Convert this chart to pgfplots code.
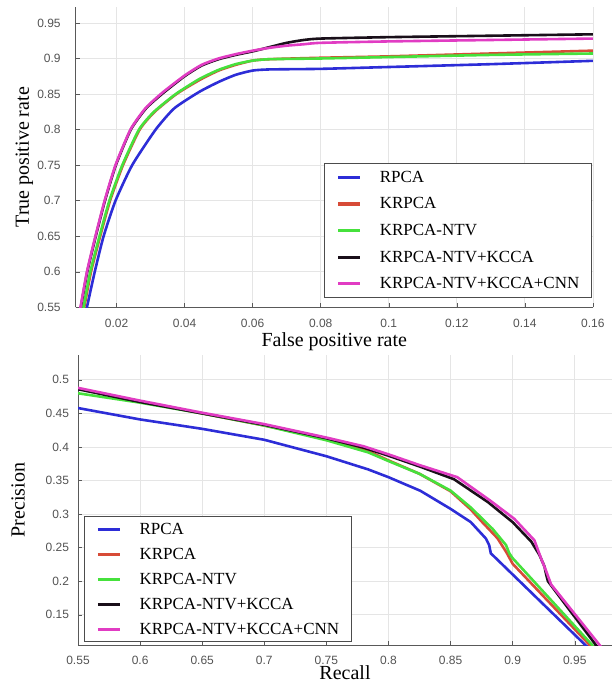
\documentclass[border=0pt]{standalone}
\usepackage{fontspec}
\setmainfont{Liberation Serif}
\newfontfamily\tickfont{Liberation Sans}
\usepackage{pgfplots}
\pgfplotsset{compat=1.18}
\definecolor{cRPCA}{RGB}{45,45,215}
\definecolor{cKRPCA}{RGB}{215,75,55}
\definecolor{cNTV}{RGB}{70,225,60}
\definecolor{cKCCA}{RGB}{25,15,25}
\definecolor{cCNN}{RGB}{225,60,195}

\pgfplotsset{
  curvestyle/.style={
    scale only axis, axis lines*=left,
    axis line style={draw=gray!70!black, line width=0.5pt},
    grid=major, major grid style={draw=gray!20, line width=0.4pt},
    tick style={draw=gray!70!black}, major tick length=2pt,
    scaled ticks=false,
    tick label style={font=\tickfont\fontsize{6}{7}\selectfont, text=gray!65!black,
      /pgf/number format/fixed, /pgf/number format/precision=3},
    /pgf/number format/assume math mode=true,
    label style={font=\fontsize{10}{12}\selectfont},
    every axis plot/.append style={line width=1.3pt},
    legend cell align=left,
    legend image code/.code={\draw[#1, line width=1.6pt] (0pt,0pt) -- (11pt,0pt);},
    legend style={draw=gray!60!black, line width=0.5pt,
      font=\fontsize{8.5}{10}\selectfont, inner xsep=6pt, column sep=9pt,
      nodes={inner sep=0pt, text height=6pt, text depth=1pt}},
  }
}

\begin{document}
\begin{tikzpicture}
\useasboundingbox (0pt,0pt) rectangle (306pt,-341.5pt);

% ROC
\begin{axis}[curvestyle,
  at={(37.85pt,-153.65pt)}, anchor=south west,
  width=258.6pt, height=150pt,
  xmin=0.008, xmax=0.16, ymin=0.55, ymax=0.972,
  xtick={0.02,0.04,0.06,0.08,0.1,0.12,0.14,0.16},
  ytick={0.55,0.6,0.65,0.7,0.75,0.8,0.85,0.9,0.95},
  xticklabel style={yshift=-2.5pt}, yticklabel style={xshift=-4pt},
  xlabel={False positive rate}, ylabel={True positive rate},
  xlabel style={at={(axis description cs:0.5,-0.113)}, anchor=center},
  ylabel style={at={(axis description cs:-0.099,0.5)}, anchor=center},
  legend style={at={(0.998,0.03)}, anchor=south east, inner ysep=3.5pt, row sep=6.3pt},
  every axis plot/.append style={smooth, tension=0.35},
]
\addplot[cRPCA] coordinates {
  (0.0110,0.54) (0.0113,0.55) (0.0136,0.60) (0.0162,0.65) (0.0197,0.70) (0.0246,0.75)
  (0.0315,0.80) (0.0370,0.83) (0.0443,0.853) (0.0500,0.867) (0.0550,0.877)
  (0.0600,0.883) (0.0650,0.8846) (0.0800,0.8854) (0.1000,0.888) (0.1300,0.892) (0.1600,0.8967)};
\addlegendentry{RPCA}
\addplot[cKRPCA] coordinates {
  (0.0100,0.54) (0.0105,0.55) (0.0125,0.60) (0.0152,0.65) (0.0181,0.70) (0.0219,0.75)
  (0.0268,0.80) (0.0312,0.825) (0.0376,0.85) (0.0445,0.870) (0.0500,0.883) (0.0550,0.891)
  (0.0600,0.897) (0.0650,0.899) (0.0800,0.901) (0.1000,0.903) (0.1300,0.907) (0.1600,0.911)};
\addlegendentry{KRPCA}
\addplot[cNTV] coordinates {
  (0.0100,0.54) (0.0103,0.55) (0.0123,0.60) (0.0150,0.65) (0.0179,0.70) (0.0217,0.75)
  (0.0266,0.80) (0.0310,0.825) (0.0374,0.85) (0.0443,0.871) (0.0500,0.884) (0.0550,0.892)
  (0.0600,0.897) (0.0650,0.899) (0.0800,0.900) (0.1000,0.902) (0.1300,0.905) (0.1600,0.907)};
\addlegendentry{KRPCA-NTV}
\addplot[cKCCA] coordinates {
  (0.0092,0.54) (0.0095,0.55) (0.0114,0.60) (0.0139,0.65) (0.0166,0.70) (0.0198,0.75)
  (0.0242,0.80) (0.0287,0.83) (0.0336,0.851) (0.0400,0.875) (0.0450,0.890) (0.0500,0.899)
  (0.0550,0.905) (0.0600,0.910) (0.0650,0.916) (0.0700,0.922) (0.0750,0.926) (0.0800,0.928)
  (0.1000,0.930) (0.1300,0.932) (0.1600,0.934)};
\addlegendentry{KRPCA-NTV+KCCA}
\addplot[cCNN] coordinates {
  (0.0090,0.54) (0.0094,0.55) (0.0113,0.60) (0.0138,0.65) (0.0165,0.70) (0.0197,0.75)
  (0.0241,0.80) (0.0285,0.83) (0.0335,0.852) (0.0400,0.876) (0.0450,0.891) (0.0500,0.900)
  (0.0550,0.906) (0.0600,0.911) (0.0650,0.915) (0.0700,0.918) (0.0750,0.920) (0.0800,0.922)
  (0.1000,0.924) (0.1300,0.926) (0.1600,0.928)};
\addlegendentry{KRPCA-NTV+KCCA+CNN}
\end{axis}

% Precision-recall
\begin{axis}[curvestyle,
  at={(39pt,-322.5pt)}, anchor=south west,
  width=267pt, height=145pt,
  xmin=0.55, xmax=0.98, ymin=0.105, ymax=0.537,
  xtick={0.55,0.6,0.65,0.7,0.75,0.8,0.85,0.9,0.95},
  ytick={0.15,0.2,0.25,0.3,0.35,0.4,0.45,0.5},
  xticklabel style={yshift=-2pt}, yticklabel style={xshift=-1pt},
  xlabel={Recall}, ylabel={Precision},
  xlabel style={at={(axis description cs:0.5,-0.0966)}, anchor=center},
  ylabel style={at={(axis description cs:-0.112,0.5)}, anchor=center},
  legend style={at={(0.011,0.01)}, anchor=south west, inner ysep=2.75pt, row sep=5.5pt},
]
\addplot[cRPCA] coordinates {
  (0.55,0.458) (0.6,0.441) (0.65,0.427) (0.7,0.4107) (0.75,0.3862) (0.7836,0.3666)
  (0.8,0.355) (0.8257,0.3347) (0.85,0.3078) (0.8662,0.2882) (0.8784,0.2637)
  (0.8811,0.2538) (0.8824,0.2416) (0.8851,0.2368) (0.9585,0.105) (0.961,0.100)};
\addlegendentry{RPCA}
\addplot[cKRPCA] coordinates {
  (0.55,0.487) (0.6,0.468) (0.65,0.450) (0.7,0.432) (0.75,0.412) (0.78,0.397)
  (0.8,0.380) (0.825,0.360) (0.85,0.334) (0.8662,0.307) (0.875,0.289) (0.8878,0.264)
  (0.895,0.243) (0.9,0.226) (0.962,0.105) (0.964,0.100)};
\addlegendentry{KRPCA}
\addplot[cNTV] coordinates {
  (0.55,0.480) (0.6,0.466) (0.65,0.450) (0.7,0.432) (0.75,0.410) (0.7836,0.392)
  (0.8,0.379) (0.825,0.360) (0.85,0.335) (0.8662,0.310) (0.8838,0.278) (0.8946,0.254)
  (0.8973,0.2416) (0.9,0.2343) (0.964,0.105) (0.966,0.100)};
\addlegendentry{KRPCA-NTV}
\addplot[cKCCA] coordinates {
  (0.55,0.486) (0.6,0.467) (0.65,0.450) (0.7,0.433) (0.75,0.413) (0.78,0.399)
  (0.8,0.387) (0.825,0.371) (0.8527,0.352) (0.88,0.318) (0.9,0.288) (0.915,0.259)
  (0.9216,0.239) (0.9256,0.222) (0.927,0.210) (0.9284,0.200) (0.967,0.105) (0.969,0.100)};
\addlegendentry{KRPCA-NTV+KCCA}
\addplot[cCNN] coordinates {
  (0.55,0.488) (0.6,0.469) (0.65,0.451) (0.7,0.434) (0.75,0.414) (0.78,0.401)
  (0.8,0.389) (0.825,0.373) (0.8554,0.355) (0.882,0.320) (0.9013,0.293) (0.9175,0.261)
  (0.9229,0.234) (0.927,0.215) (0.931,0.195) (0.970,0.105) (0.972,0.100)};
\addlegendentry{KRPCA-NTV+KCCA+CNN}
\end{axis}
\end{tikzpicture}
\end{document}
